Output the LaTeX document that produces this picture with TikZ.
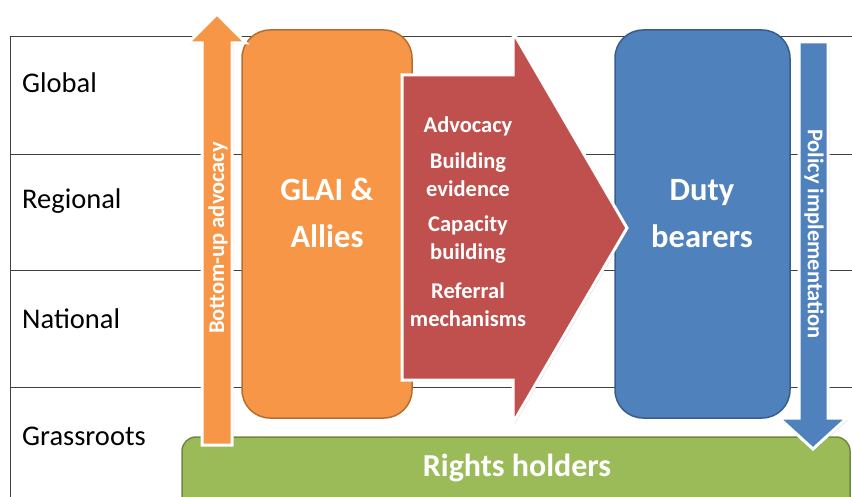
\documentclass[tikz,border=0pt]{standalone}
\usepackage{fontspec}
\setmainfont{Carlito}
\usetikzlibrary{shadows}
\definecolor{orF}{HTML}{F79646}
\definecolor{orD}{HTML}{B66D31}
\definecolor{reF}{HTML}{C0504D}
\definecolor{blF}{HTML}{4F81BD}
\definecolor{blD}{HTML}{385D8A}
\definecolor{grF}{HTML}{9BBB59}
\definecolor{grD}{HTML}{71893F}
\definecolor{lineC}{HTML}{404040}
\tikzset{
  rowlabel/.style={anchor=west, inner sep=0pt, font=\fontsize{28.5}{32}\selectfont, text=black},
  boxtext/.style={align=center, text=white, font=\bfseries\fontsize{32.5}{47}\selectfont},
  redtext/.style={align=center, text=white, font=\bfseries\fontsize{22.5}{28}\selectfont},
  arrtext/.style={text=white, font=\bfseries\fontsize{22.5}{24}\selectfont, inner sep=0pt},
  blockarrow/.style={draw=white, line width=3pt, line join=miter,
     drop shadow={opacity=0.25, shadow xshift=1.5pt, shadow yshift=-1.5pt}},
}
\begin{document}
\begin{tikzpicture}[x=1pt,y=-1pt]
\useasboundingbox (0,0) rectangle (852,497);
% table grid
\draw[lineC, line width=0.8pt] (852,36) -- (10,36) -- (10,497);
\draw[lineC, line width=0.8pt] (10,154) -- (852,154);
\draw[lineC, line width=0.8pt] (10,270) -- (852,270);
\draw[lineC, line width=0.8pt] (10,387) -- (852,387);
\node[rowlabel] (glob) at (22,83) {Global};
\node[rowlabel] (reg) at (22,201) {Regional};
\node[rowlabel] (nat) at (22,319) {National};
\node[rowlabel] (grass) at (22,436) {Grassroots};
% green box
\draw[fill=grF, draw=grD, line width=1.5pt, rounded corners=14pt] (182,437) rectangle (850,520);
\node[text=white, font=\bfseries\fontsize{32}{36}\selectfont] (rh) at (517,468) {Rights holders};
% orange box
\draw[fill=orF, draw=orD, line width=1.5pt, rounded corners=28pt] (242,30) rectangle (412,418);
\node[boxtext] (glai) at (327,213) {GLAI \&\\Allies};
% blue box
\draw[fill=blF, draw=blD, line width=1.5pt, rounded corners=28pt] (615,30) rectangle (790,418);
\node[boxtext] (duty) at (702,214) {Duty\\bearers};
% red arrow
\path[blockarrow, fill=reF] (402,75) -- (513,75) -- (513,32) -- (627,228) -- (513,423) -- (513,380) -- (402,380) -- cycle;
\node[redtext] (adv) at (468,126) {Advocacy};
\node[redtext] (bev) at (468,175) {Building\\evidence};
\node[redtext] (cap) at (468,240) {Capacity\\building};
\node[redtext] (ref) at (468,305) {Referral\\mechanisms};
% orange up arrow
\path[blockarrow, fill=orF] (202,445) -- (202,43) -- (188,43) -- (217,14) -- (246,43) -- (232,43) -- (232,445) -- cycle;
\node[arrtext, rotate=90] (bua) at (218,238) {Bottom-up advocacy};
% blue down arrow
\path[blockarrow, fill=blF] (799,42) -- (828,42) -- (828,418) -- (847,418) -- (813,449) -- (779,418) -- (799,418) -- cycle;
\node[arrtext, rotate=-90] (pol) at (814,234) {Policy implementation};
\end{tikzpicture}
\end{document}
